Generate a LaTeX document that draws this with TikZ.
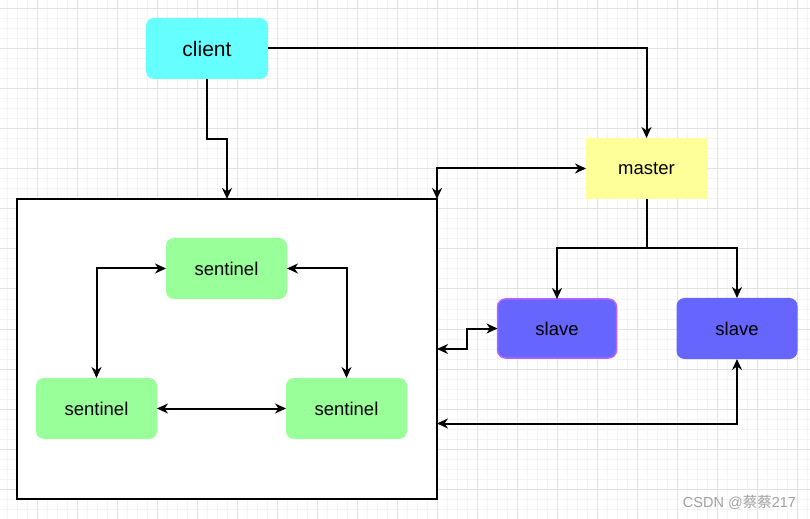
\documentclass[tikz,border=0pt]{standalone}
\usepackage{fontspec}
\setmainfont{Liberation Sans}
\newfontfamily\cjkfont{Noto Sans CJK SC}
\usetikzlibrary{arrows.meta}
\definecolor{cyanfill}{HTML}{66FFFF}
\definecolor{yellowfill}{HTML}{FFFF99}
\definecolor{greenfill}{HTML}{99FF99}
\definecolor{bluefill}{HTML}{6666FF}
\definecolor{purplestroke}{HTML}{B266FF}
\definecolor{minorgrid}{HTML}{F4F4F4}
\definecolor{majorgrid}{HTML}{E2E2E2}
\definecolor{wmgrey}{HTML}{A0A0A0}
\tikzset{
  box/.style={inner sep=0pt, outer sep=0pt, rounded corners=8bp,
    font=\fontsize{18.5bp}{22bp}\selectfont},
  tipstyle/.style={},
  conn/.style={line width=2bp, draw=black,
    arrows={-Stealth[length=11bp,width=10bp,inset=3.5bp]}},
  biconn/.style={line width=2bp, draw=black,
    arrows={Stealth[length=11bp,width=10bp,inset=3.5bp]-Stealth[length=11bp,width=10bp,inset=3.5bp]}},
}
\begin{document}
\begin{tikzpicture}[x=1bp,y=-1bp]
\useasboundingbox (0,0) rectangle (810,519);
\fill[white] (0,0) rectangle (810,519);
% grid
\foreach \gx in {7,17,...,807} \draw[minorgrid,line width=1bp] (\gx,0) -- (\gx,519);
\foreach \gy in {9,19,...,519} \draw[minorgrid,line width=1bp] (0,\gy) -- (810,\gy);
\foreach \gx in {37,77,...,797} \draw[majorgrid,line width=1bp] (\gx,0) -- (\gx,519);
\foreach \gy in {9,49,...,489} \draw[majorgrid,line width=1bp] (0,\gy) -- (810,\gy);

% nodes
\node[box, fill=cyanfill, minimum width=122bp, minimum height=61bp,
  font=\fontsize{21bp}{25bp}\selectfont] (client) at (207,48.5) {client};
\node[box, rounded corners=0pt, fill=yellowfill, minimum width=121bp, minimum height=61bp] (master) at (646.5,168.5) {master};
\node[draw=black, line width=2bp, fill=white, inner sep=0pt, outer sep=0pt,
  minimum width=420bp, minimum height=300bp] (cluster) at (227,349) {};
\node[box, fill=bluefill, draw=purplestroke, line width=1.5bp, minimum width=119bp, minimum height=59bp] (slaveA) at (557,328.5) {slave};
\node[box, fill=bluefill, minimum width=121bp, minimum height=61bp] (slaveB) at (737,328.5) {slave};
\node[box, fill=greenfill, minimum width=121bp, minimum height=61bp] (sentA) at (226.5,268.5) {sentinel};
\node[box, fill=greenfill, minimum width=121bp, minimum height=61bp] (sentB) at (96.5,408.5) {sentinel};
\node[box, fill=greenfill, minimum width=121bp, minimum height=61bp] (sentC) at (346.5,408.5) {sentinel};

% helper coordinates
\coordinate (clientBend) at (227,139);
\coordinate (split) at (646.5,248);
\coordinate (slaveABend) at (467,328.5);
\coordinate (boxSlaveA) at (437,349);
\coordinate (boxSlaveB) at (437,423.5);

% connectors
\draw[conn] (client.south) |- (clientBend) -- (cluster.north);
\draw[conn] (client.east) -| (master.north);
\draw[biconn] (master.west) -| (cluster.north east);
\draw[line width=2bp] (master.south) -- (split);
\draw[conn] (split) -| (slaveA.north);
\draw[conn] (split) -| (slaveB.north);
\draw[biconn] (slaveA.west) -- (slaveABend) |- (boxSlaveA);
\draw[biconn] (slaveB.south) |- (boxSlaveB);
\draw[biconn] (sentA.west) -| (sentB.north);
\draw[biconn] (sentA.east) -| (sentC.north);
\draw[biconn] (sentB.east) -- (sentC.west);

% watermark
\node[text=wmgrey, inner sep=0pt, font=\fontsize{14.5bp}{17bp}\selectfont] (wm) at (739.5,502.5) {CSDN @{\cjkfont 蔡蔡}217};
\end{tikzpicture}
\end{document}
